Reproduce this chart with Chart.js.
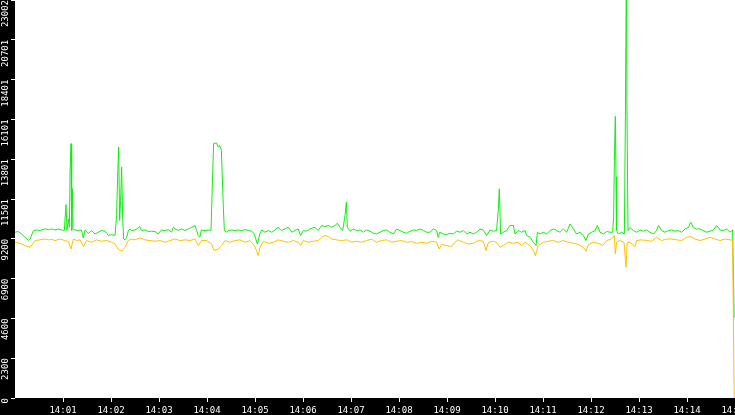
<!DOCTYPE html>
<html>
<head>
<meta charset="utf-8">
<script src="https://cdn.jsdelivr.net/npm/chart.js@4/dist/chart.umd.min.js"></script>
<style>
    html, body { margin: 0; padding: 0; background: #fff; overflow: hidden; }
    #wrap { width: 735px; height: 415px; position: relative; }
</style>
</head>
<body>
<div id="wrap"><canvas id="chart-flow"></canvas></div>
<script>
// seconds after 14:00, value
const greenPoints = [
    [0,9580],[4,9620],[8,9480],[12.5,9290],[17,9100],[19,9190],[23,9680],[27,9710],[31,9680],[37.5,9770],
    [42,9730],[46,9770],[50,9710],[54,9770],[58,9710],[61.7,9680],[62.5,10350],[63.8,11180],[65,9680],[66.7,10350],
    [68,9870],[68.8,12960],[70,14700],[70.8,9680],[71.7,12090],[72.5,9770],[75,9710],[79,9680],[83,9710],[85.4,9250],
    [87.5,9710],[91.7,9520],[95.8,9680],[100,9480],[104,9580],[108,9680],[112.5,9640],[116.7,9390],[121,9440],[125,9390],
    [127,10550],[128.3,12770],[129.6,14500],[130.8,10260],[132,11410],[133.3,13350],[134.6,10450],[135.8,9190],[137.5,9140],[139.6,9290],
    [141.7,9680],[143.8,9770],[145.8,9680],[150,9710],[154,9830],[156,9910],[158,9680],[162.5,9710],[166.7,9620],[170.8,9640],
    [175,9620],[179,9480],[183,9710],[187.5,9680],[191.7,9730],[195.8,9580],[198,9870],[200,9770],[204,9680],[208,9770],
    [212.5,9680],[216.7,9770],[221,9870],[225,9970],[227,9680],[229,9390],[231,9290],[233,9710],[237.5,9680],[241.7,9710],
    [245,9680],[246.7,12380],[248.3,14700],[252,14740],[254,14500],[255.8,14600],[258,14310],[260.4,11030],[261.7,9680],[264.6,9580],
    [266.7,9680],[270.8,9710],[275,9680],[279,9710],[283,9680],[287.5,9730],[291.7,9680],[296,9640],[299,9480],[303,8900],
    [306,9480],[308.3,9710],[312.5,9580],[316.7,9680],[321,9580],[325,9710],[329,9870],[333,9680],[337.5,9770],[341.7,9870],
    [346,9580],[350,9680],[354,9770],[357,9390],[360.4,9680],[364.6,9640],[368.75,9770],[375,9870],[379,9680],[383.3,9970],
    [387.5,9910],[391.7,9970],[395.8,9870],[400,9970],[403,10100],[406.25,9870],[409.6,9680],[412.5,10550],[414.2,11320],[415.4,9870],
    [418.75,9640],[423,9770],[427,9680],[431.25,9710],[435.4,9580],[439.6,9710],[443.75,9640],[448,9520],[452,9480],[456.25,9580],
    [460.4,9680],[464.6,9710],[468.75,9580],[473,9480],[477,9770],[481.25,9680],[485.4,9580],[489.6,9520],[493.75,9640],[498,9710],
    [502,9680],[506.25,9770],[510.4,9680],[514.6,9580],[518.75,9580],[523,9770],[527,9680],[529,9290],[531,9580],[535.4,9480],
    [539.6,9440],[543.75,9520],[548,9480],[552,9640],[556.25,9580],[560.4,9680],[564.6,9480],[568.75,9580],[573,9480],[577,9580],
    [581.25,9770],[585.4,9710],[589.6,9390],[593.75,9710],[598,9640],[602,9680],[604.2,10930],[605.4,12090],[607,9480],[610.4,9580],
    [614.6,9680],[618.75,9970],[623,9970],[625,9480],[629,9680],[633,9580],[637.5,9680],[639.6,9390],[643.75,9290],[648,9000],
    [651.25,8810],[653,9580],[656.25,9480],[660.4,9580],[664.6,9480],[668.75,9680],[673,9770],[677,9680],[681.25,9580],[685.4,9770],
    [689.6,9580],[693.75,10060],[698,9770],[702,9480],[706.25,9580],[710.4,9390],[713.75,9100],[716.7,9480],[720.8,9580],[725,9680],
    [728,9970],[731.25,9580],[735.4,9480],[739.6,9620],[743.75,9580],[747,9580],[748.3,10450],[749.2,13730],[750.4,16280],[751.25,12760],
    [752,9680],[754.2,9480],[758.3,9580],[761.7,9480],[763,16340],[764.2,25000],[765,16340],[766.25,9680],[768.75,9850],[773,9680],
    [777,9580],[781.25,9710],[785.4,9640],[789.6,9710],[793.75,9580],[798,9480],[802,9680],[804.2,9970],[808.3,9680],[812.5,9580],
    [816.7,9680],[820.8,9710],[825,9640],[829,9680],[833.3,9580],[837.5,9770],[841.7,9850],[844.6,10160],[848,9850],[852,9770],
    [856.25,9770],[860.4,9680],[864.6,9580],[868.75,9640],[873,9710],[877,9970],[881.25,9710],[885.4,9680],[889.6,9770],[893.75,9580],
    [897,9710],[899,4640]
];

const orangePoints = [
    [0,9000],[6.25,8940],[12.5,8810],[18.75,8710],[25,9100],[31.25,9140],[37.5,9190],[41.7,9140],[45.8,9170],[50,9100],
    [56.25,9190],[62.5,9100],[66.7,9040],[70,8610],[73,9190],[77,9100],[81.25,9140],[85.4,8750],[89.6,9100],[95.8,9000],
    [102,9140],[108.3,9060],[114.6,9100],[120.8,9000],[125,8900],[129,8610],[133.3,8480],[137.5,8710],[141.7,9100],[145.8,9190],
    [150,9140],[156.25,9250],[162.5,9140],[168.75,9100],[175,9060],[181.25,9100],[187.5,9000],[193.75,9100],[200,9190],[206.25,9100],
    [212.5,9140],[218.75,9100],[225,9190],[229,8810],[233.3,9100],[239.6,9100],[245.8,8900],[248.75,8520],[254,8610],[258.3,8810],
    [262.5,9100],[268.75,9000],[275,9100],[281.25,9140],[287.5,9000],[293.75,9100],[299,8810],[302,8520],[304,8230],[306.25,8710],
    [310.4,9060],[316.7,8940],[323,9000],[329,9140],[335.4,9060],[341.7,9000],[348,9100],[354,9000],[357,8810],[360.4,9100],
    [366.7,9000],[373,9060],[379,9100],[383.3,9290],[387.5,9390],[391.7,9330],[395.8,9190],[402,9140],[408.3,9100],[414.6,9140],
    [420.8,9000],[427,9060],[433.3,9000],[439.6,9100],[445.8,9190],[452,9000],[458.3,9100],[464.6,9140],[470.8,9000],[477,9060],
    [483.3,9100],[489.6,9000],[495.8,9040],[502,8940],[508.3,9000],[514.6,8940],[520.8,9060],[527,9000],[530,8610],[533.3,8870],
    [539.6,8810],[545.8,8750],[550,9000],[554,9140],[560.4,9000],[566.7,8900],[573,8940],[579,9100],[585.4,9060],[588.75,8520],
    [591.7,9000],[598,9060],[602,9000],[606.25,8710],[610.4,8810],[616.7,9000],[623,8940],[629,9000],[633.3,8810],[637.5,9000],
    [643.75,8810],[648,8520],[650.4,8230],[654,8810],[660.4,9000],[666.7,9060],[673,9100],[679,9000],[685.4,9100],[691.7,9000],
    [698,8940],[704.2,8870],[710.4,8710],[713.75,8480],[716.7,8870],[723,9000],[729,8940],[734.6,8810],[739.6,9100],[745.8,9190],
    [749.2,9390],[750.4,8320],[752,9000],[756.25,9100],[761.25,9000],[763.75,7550],[765.4,9000],[768.75,9000],[775,8750],[777,9100],
    [783.3,9140],[789.6,9100],[795.8,9060],[802,9290],[808.3,9100],[814.6,9190],[820.8,9190],[827,9140],[833.3,9100],[839.6,9290],
    [843.75,9330],[850,9190],[856.25,9100],[862.5,9190],[868.75,9290],[875,9190],[881.25,9100],[887.5,9190],[893.75,9140],[897,9100],
    [899,0]
];

const yTicks = [0, 2300, 4600, 6900, 9200, 11501, 13801, 16101, 18401, 20701, 23002];
const xTickSeconds = [60, 120, 180, 240, 300, 360, 420, 480, 540, 600, 660, 720, 780, 840, 900];
const xTickLabels = ['14:01', '14:02', '14:03', '14:04', '14:05', '14:06', '14:07', '14:08',
    '14:09', '14:10', '14:11', '14:12', '14:13', '14:14', '14:15'];

const tickFont = { family: 'DejaVu Sans Mono', size: 9 };

// black bars behind the axes
const axisBackground = {
    id: 'axisBackground',
    beforeDraw(chart) {
        const { ctx, chartArea, width, height } = chart;
        ctx.save();
        ctx.fillStyle = '#000';
        ctx.fillRect(0, 0, chartArea.left, height);
        ctx.fillRect(0, chartArea.bottom, width, height - chartArea.bottom);
        ctx.restore();
    }
};

const toXY = pts => pts.map(p => ({ x: p[0], y: p[1] }));

const ctxFlow = document.getElementById('chart-flow').getContext('2d');
new Chart(ctxFlow, {
    type: 'line',
    data: {
        datasets: [
            {
                label: 'low',
                data: toXY(orangePoints),
                borderColor: '#ffc000',
                borderWidth: 1,
                tension: 0,
                pointRadius: 0
            },
            {
                label: 'high',
                data: toXY(greenPoints),
                borderColor: '#11ee11',
                borderWidth: 1,
                tension: 0,
                pointRadius: 0
            }
        ]
    },
    options: {
        responsive: true,
        maintainAspectRatio: false,
        animation: false,
        events: [],
        layout: { padding: 0 },
        plugins: { legend: { display: false }, tooltip: { enabled: false } },
        scales: {
            x: {
                type: 'linear',
                min: 0,
                max: 900,
                afterBuildTicks: s => { s.ticks = xTickSeconds.map(v => ({ value: v })); },
                afterFit: s => { s.height = 17; s.paddingLeft = 0; s.paddingRight = 0; },
                grid: { drawOnChartArea: false, drawTicks: true, tickLength: 4, color: '#fff' },
                border: { display: false },
                ticks: {
                    color: '#fff',
                    font: tickFont,
                    padding: 3,
                    maxRotation: 0,
                    autoSkip: false,
                    callback: (v, i) => xTickLabels[i]
                }
            },
            y: {
                min: 0,
                max: 23002,
                afterBuildTicks: s => { s.ticks = yTicks.map(v => ({ value: v })); },
                afterFit: s => { s.width = 15; s.paddingTop = 0; s.paddingBottom = 0; },
                grid: { drawOnChartArea: false, drawTicks: true, tickLength: 4, color: '#fff' },
                border: { display: false },
                ticks: {
                    color: '#fff',
                    font: tickFont,
                    padding: 5,
                    minRotation: 90,
                    maxRotation: 90,
                    autoSkip: false,
                    callback: (v, i) => String(yTicks[i])
                }
            }
        }
    },
    plugins: [axisBackground]
});
</script>
</body>
</html>
